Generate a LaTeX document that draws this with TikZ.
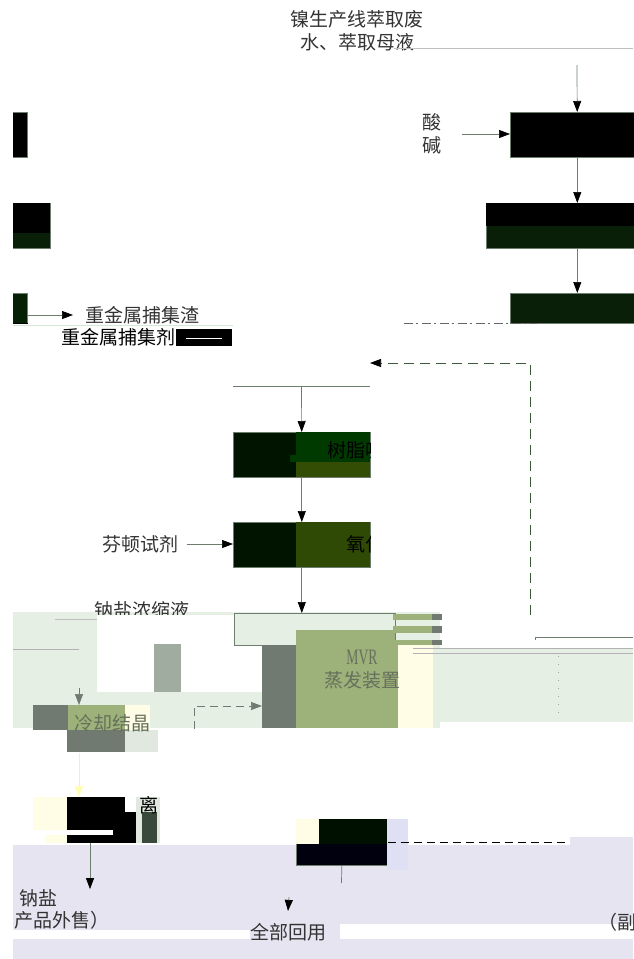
\documentclass[tikz,border=0pt]{standalone}
\usepackage{fontspec}
\setmainfont{Noto Sans CJK SC}
\newfontfamily\narrowserif[FakeStretch=0.62]{Liberation Serif}
\usetikzlibrary{arrows.meta}
\definecolor{lineg}{HTML}{6E7E6E}
\definecolor{dkA}{HTML}{001400}
\definecolor{dkB}{HTML}{0A1F08}
\definecolor{dkC}{HTML}{062006}
\definecolor{dgr}{HTML}{013A01}
\definecolor{oliv}{HTML}{334D05}
\definecolor{olivB}{HTML}{2E4A05}
\definecolor{lgr}{HTML}{E6EFE4}
\definecolor{mgr}{HTML}{9DB27A}
\definecolor{ggr}{HTML}{707A70}
\definecolor{lyel}{HTML}{FFFDE6}
\definecolor{lav}{HTML}{E6E4F0}
\definecolor{lavB}{HTML}{E0E0F5}
\definecolor{navyx}{HTML}{00000F}
\definecolor{txtc}{HTML}{333333}
\definecolor{gtxt}{HTML}{66705C}
\definecolor{lgb}{HTML}{E0E8E0}
\definecolor{gblk}{HTML}{A0ACA0}
\definecolor{pline}{HTML}{D4E6D4}
\definecolor{dashg}{HTML}{3A5A3A}
\definecolor{colg}{HTML}{3A4A3A}
\definecolor{nearblk}{HTML}{001000}
\definecolor{yline}{HTML}{F0F0C0}
\definecolor{ytip}{HTML}{FFFFB0}
\tikzset{
  lab/.style={font=\fontsize{19}{23}\selectfont, text=txtc, inner sep=0pt, align=center},
  boxst/.style={draw=lineg, line width=0.6pt, inner sep=0pt, anchor=north west},
  flow/.style={draw=lineg, line width=0.7pt, -{Triangle[length=11pt,width=8pt,color=black]}},
  gflow/.style={draw=ggr, line width=0.7pt, -{Triangle[length=11pt,width=8pt,color=ggr]}},
  dflow/.style={flow, dash pattern=on 10pt off 6pt},
}
\begin{document}
\begin{tikzpicture}[x=1pt,y=-1pt]
\useasboundingbox (0,0) rectangle (633,959);
\fill[white] (0,0) rectangle (633,959);
\begin{scope}
\clip (13,-1) rectangle (634,960);

% ---------- backgrounds ----------
\fill[lgr] (13,612) rectangle (440,728);
\fill[lgr] (432,648) rectangle (633,722);
\node[lab] (conc) at (141.5,610) {钠盐浓缩液};
\fill[white] (97,615) rectangle (262,692);
\fill[white] (442,615) rectangle (633,633);
\fill[gblk] (154,644) rectangle (181,692);
\draw[gray!60, line width=0.6pt] (13,649) -- (79,649);
\draw[gray!50, line width=0.6pt] (55,619) -- (97,619);
\fill[lav] (13,845) rectangle (633,959);
\fill[lav] (570,837) rectangle (633,845);
\fill[white] (13,930) rectangle (250,939);
\fill[white] (340,924) rectangle (633,939);

% ---------- top source ----------
\node[lab] (src) at (357,31) {镍生产线萃取废\\水、萃取母液};
\draw[gray!50, line width=0.8pt] (394,48) -- (633,48);
\coordinate (in0) at (577,65);

% ---------- right column ----------
\node[boxst, fill=black, minimum width=134, minimum height=45] (s1) at (510,112) {};
\draw[flow] (in0) -- (s1);
\node[lab] (acid) at (432,134) {酸\\碱};
\coordinate (a0) at (462,134);
\draw[flow] (a0) -- (s1.west |- a0);

\node[boxst, fill=dkB, minimum width=182, minimum height=45] (s2) at (486,203) {};
\fill[black] (486,203) rectangle (668,226);
\draw[flow] (s1) -- (s2);

\node[boxst, fill=dkB, minimum width=134, minimum height=30] (s3) at (510,293) {};
\draw[flow] (s2) -- (s3);
\draw[black!60, line width=0.8pt, dash pattern=on 9pt off 3pt on 2pt off 4pt] (404,323) -- (537,323);

% ---------- left column (cropped) ----------
\node[boxst, fill=black, minimum width=87, minimum height=45] (b1) at (-60,112) {};
\node[boxst, fill=dkB, minimum width=110, minimum height=45] (b2) at (-60,203) {};
\fill[black] (-60,203) rectangle (50,233);
\node[boxst, fill=dkC, minimum width=87, minimum height=30] (b3) at (-60,293) {};
\draw[black, line width=1.5pt] (13,323.5) -- (28,323.5);
\node[lab, anchor=west] (slag) at (85,315) {重金属捕集渣};
\draw[flow] (b3.east |- slag) -- ([xshift=-12pt]slag.west);
\draw[pline, line width=0.6pt] (13,325) -- (233,325);
\node[lab, anchor=west, text=black] (agent) at (61,337.5) {重金属捕集剂};
\fill[black] (176,329) rectangle (232,346);
\draw[white, line width=0.6pt] (186,338) -- (222,338);

% ---------- feedback dashed ----------
\coordinate (fb0) at (530,615);
\coordinate (fb1) at (530,363);
\coordinate (fbt) at (370,363);
\draw[dflow, draw=dashg] (fb0) -- (fb1) -- (fbt);

% ---------- middle column ----------
\coordinate (m0) at (233,386);
\coordinate (m1) at (370,386);
\coordinate (m2) at (301.5,386);
\draw[lineg, line width=0.7pt] (m0) -- (m1);

\node[boxst, fill=dkA, minimum width=137, minimum height=45] (E) at (233,432) {};
\fill[dgr] (296,432) rectangle (370,462);
\fill[oliv] (296,462) rectangle (370,477);
\fill[dgr] (290,455) rectangle (320,462);
\begin{scope}
\clip (233,432) rectangle (370,477);
\node[lab, anchor=west, text=black] (Et) at (327,450) {树脂吸附};
\end{scope}
\draw[flow] (m2) -- (E);

\node[boxst, fill=dkA, minimum width=137, minimum height=45] (F) at (233,522) {};
\fill[olivB] (296,522) rectangle (370,567);
\begin{scope}
\clip (233,522) rectangle (370,567);
\node[lab, anchor=west, text=black] (Ft) at (346,544) {氧化};
\end{scope}
\draw[flow] (E) -- (F);
\node[lab] (fen) at (140.5,544) {芬顿试剂};
\draw[flow] ([xshift=8pt]fen.east) -- (F.west |- fen);

% ---------- MVR area ----------
\node[boxst, fill=lgr, minimum width=161, minimum height=32] (G) at (234,613) {};
\draw[flow] (F.south) -- (F.south |- G.north);

\node[boxst, draw=none, fill=mgr, minimum width=136, minimum height=83] (mvr) at (262,645) {};
\fill[ggr] (262,645) rectangle (296,728);
\fill[mgr] (296,630) rectangle (395,645);
\fill[lyel] (398,645) rectangle (433,728);
\foreach \ya/\yb in {614/620, 626/633, 640/645}{
  \fill[mgr] (393,\ya) rectangle (432,\yb);
  \fill[ggr] (432,\ya) rectangle (442,\yb);
}
\node[lab, text=gtxt] (mvrt) at (362,669.5) {{\fontsize{22}{23}\selectfont\narrowserif MVR}\\蒸发装置};

\draw[lineg, line width=0.6pt] (535,640) -- (535,637) -- (633,637);
\draw[gray!60, line width=0.6pt] (413,648) -- (633,648);
\draw[gray!60, line width=0.6pt] (413,653) -- (633,653);
\draw[gray!70, line width=0.8pt, dash pattern=on 1pt off 7pt] (558,648) -- (558,718);

% ---------- cooling crystallisation ----------
\node[boxst, draw=none, minimum width=125, minimum height=47] (cool) at (33,705) {};
\fill[ggr] (33,705) rectangle (68,730);
\fill[mgr] (68,705) rectangle (125,730);
\fill[lyel] (125,705) rectangle (150,730);
\fill[ggr] (67,730) rectangle (125,752);
\fill[lgb] (125,730) rectangle (158,752);
\node[lab, text=gtxt] (coolt) at (112.5,723) {冷却结晶};
\coordinate (c0) at (79,688);
\draw[gflow] (c0) -- (c0 |- cool.north);

\coordinate (d0) at (194,729);
\coordinate (d1) at (194,706);
\draw[gflow, dash pattern=on 8pt off 5pt] (d0) -- (d1) -- (d1 -| mvr.west);

% ---------- centrifuge ----------
\node[boxst, draw=none, fill=black, minimum width=58, minimum height=46] (lx) at (67,797) {};
\fill[black] (125,812) rectangle (136,843);
\fill[lgb] (136,797) rectangle (160,843);
\fill[lyel] (33,797) rectangle (67,830);
\fill[lyel] (45,830) rectangle (67,843);
\fill[white] (45,830) rectangle (113,835);
\fill[colg] (142,812) rectangle (157,843);
\node[lab, text=black] (lxt) at (149,805) {离};
\draw[yline, line width=0.6pt, -{Triangle[length=11pt,width=8pt,color=ytip]}] (c0 |- cool.south) -- (c0 |- lx.north);

\node[lab, anchor=west] (na) at (19,898) {钠盐};
\node[lab, anchor=west] (nb) at (-5,920) {（产品外售）};
\coordinate (n0) at (90,843);
\draw[flow] (n0) -- (n0 |- na.north);

% ---------- bottom middle box ----------
\node[boxst, fill=navyx, minimum width=91, minimum height=46] (bm) at (296,819) {};
\fill[lyel] (296,819) rectangle (319,844);
\fill[nearblk] (319,819) rectangle (387,844);
\fill[lavB] (387,819) rectangle (408,870);
\coordinate (e0) at (568,842);
\draw[black, line width=1pt, dash pattern=on 8pt off 5pt] (bm.east |- e0) -- (e0);
\coordinate (q0) at (341.5,883);
\draw[lineg, line width=0.7pt] (bm.south) -- (q0);
\node[lab] (reuse) at (288,932) {全部回用};
\coordinate (q1) at (289,897);
\draw[flow] (q1) -- ([yshift=12pt]reuse.north);
\node[lab, anchor=west] (byp) at (598,922) {（副产品）};
\end{scope}
\end{tikzpicture}
\end{document}
